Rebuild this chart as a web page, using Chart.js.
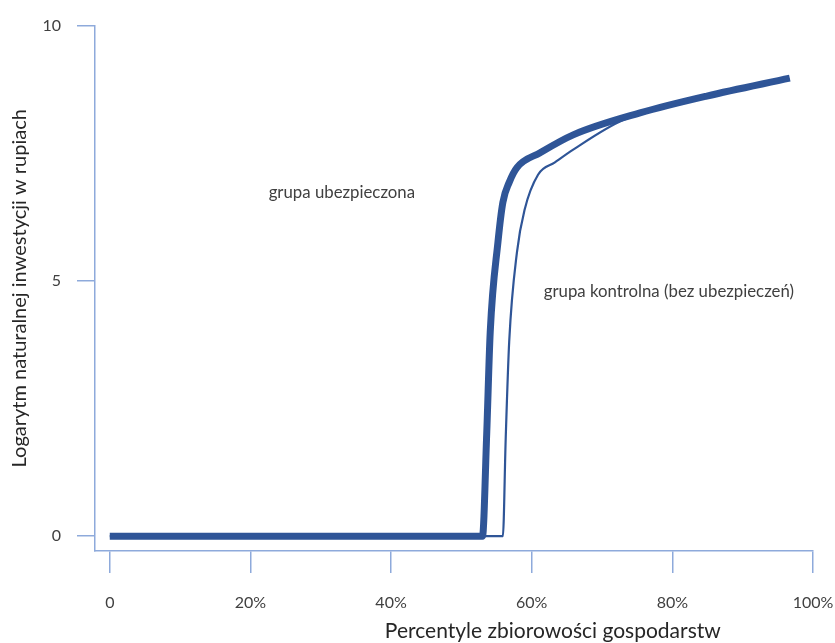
<!DOCTYPE html>
<html>
<head>
<meta charset="utf-8">
<script src="https://cdn.jsdelivr.net/npm/chart.js@4/dist/chart.umd.min.js"></script>
<style>
  html, body { margin: 0; padding: 0; background: #ffffff; }
  #wrap { width: 835px; height: 643px; position: relative; }
</style>
</head>
<body>
<div id="wrap"><canvas id="chart"></canvas></div>
<script>
// Percentyle (x, %) i logarytm inwestycji (y) – grupa ubezpieczona
const insuredX = [0, 53.0, 53.6, 54.1, 55.2, 55.9, 56.8, 57.9, 61.2, 65.9, 75.4, 84.9, 96.7];
const insuredY = [0, 0, 2.0, 4.0, 5.76, 6.54, 6.93, 7.22, 7.51, 7.86, 8.29, 8.62, 8.97];

// Grupa kontrolna (bez ubezpieczeń)
const controlX = [0, 55.9, 56.3, 56.8, 57.9, 59.0, 60.9, 63.3, 65.9, 73.0, 84.9, 96.7];
const controlY = [0, 0, 1.9, 3.81, 5.56, 6.40, 7.08, 7.32, 7.57, 8.15, 8.60, 8.95];

// Osie
const xTickValues = [0, 20, 40, 60, 80, 100];
const xTickLabels = ['0', '20%', '40%', '60%', '80%', '100%'];
const yTickValues = [0, 5, 10];
const yTickLabels = ['0', '5', '10'];

// Opisy serii: tekst oraz punkt zaczepienia w jednostkach danych
const seriesNotes = ['grupa ubezpieczona', 'grupa kontrolna (bez ubezpieczeń)'];
const noteX = [33.0, 79.5];
const noteY = [6.73, 4.79];

const xTitle = 'Percentyle zbiorowości gospodarstw';
const yTitle = 'Logarytm naturalnej inwestycji w rupiach';

const FONT = 'Lato';
const AXIS_BLUE = '#8eaadb';
const LINE_BLUE = '#2f5597';
const TEXT = '#404040';

const toPoints = (xs, ys) => xs.map((x, i) => ({ x, y: ys[i] }));

const notesPlugin = {
  id: 'notes',
  afterDraw(chart) {
    const { ctx, scales: { x, y } } = chart;
    ctx.save();
    ctx.fillStyle = TEXT;
    ctx.font = `16.8px ${FONT}`;
    ctx.textAlign = 'center';
    ctx.textBaseline = 'middle';
    seriesNotes.forEach((t, i) => {
      ctx.fillText(t, x.getPixelForValue(noteX[i]), y.getPixelForValue(noteY[i]));
    });
    // tytuł osi X, przesunięty w prawo względem środka osi
    ctx.fillStyle = '#262626';
    ctx.font = `21px ${FONT}`;
    ctx.fillText(xTitle, x.getPixelForValue(63), chart.height - 12);
    ctx.restore();
  }
};

new Chart(document.getElementById('chart'), {
  type: 'line',
  data: {
    datasets: [
      {
        label: seriesNotes[1],
        data: toPoints(controlX, controlY),
        borderColor: LINE_BLUE,
        borderWidth: 2.2,
        pointRadius: 0,
        cubicInterpolationMode: 'monotone',
        fill: false
      },
      {
        label: seriesNotes[0],
        data: toPoints(insuredX, insuredY),
        borderColor: LINE_BLUE,
        borderWidth: 7,
        pointRadius: 0,
        cubicInterpolationMode: 'monotone',
        fill: false
      }
    ]
  },
  plugins: [notesPlugin],
  options: {
    responsive: true,
    maintainAspectRatio: false,
    animation: false,
    layout: { padding: { top: 22, right: 22, left: 0, bottom: 0 } },
    plugins: {
      legend: { display: false },
      tooltip: { enabled: false }
    },
    scales: {
      x: {
        type: 'linear',
        min: -2.1,
        max: 100,
        afterBuildTicks: s => { s.ticks = xTickValues.map(v => ({ value: v })); },
        afterFit: s => { s.height = 92; s.paddingLeft = 0; s.paddingRight = 0; },
        ticks: {
          autoSkip: false,
          maxRotation: 0,
          padding: 20,
          color: TEXT,
          font: { family: FONT, size: 16 },
          callback: (v) => xTickLabels[xTickValues.indexOf(v)]
        },
        grid: {
          drawOnChartArea: false,
          drawTicks: true,
          tickLength: 22,
          color: AXIS_BLUE,
          lineWidth: 1.5
        },
        border: { color: AXIS_BLUE, width: 1.5 },
        title: { display: false }
      },
      y: {
        type: 'linear',
        min: -0.29,
        max: 10,
        afterBuildTicks: s => { s.ticks = yTickValues.map(v => ({ value: v })); },
        afterFit: s => { s.width = 95; },
        ticks: {
          padding: 16,
          color: TEXT,
          font: { family: FONT, size: 16 },
          callback: (v) => yTickLabels[yTickValues.indexOf(v)]
        },
        grid: {
          drawOnChartArea: false,
          drawTicks: true,
          tickLength: 18,
          color: AXIS_BLUE,
          lineWidth: 1.5
        },
        border: { color: AXIS_BLUE, width: 1.5 },
        title: {
          display: true,
          text: yTitle,
          color: '#262626',
          font: { family: FONT, size: 20 },
          padding: { top: 8, bottom: 0 }
        }
      }
    }
  }
});
</script>
</body>
</html>
